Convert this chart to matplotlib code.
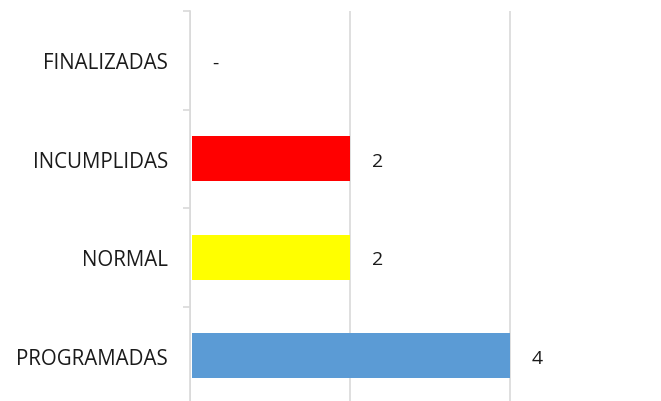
import matplotlib.pyplot as plt

# datos
categorias = ['PROGRAMADAS', 'NORMAL', 'INCUMPLIDAS', 'FINALIZADAS']
valores = [4, 2, 2, 0]
colores = ['#5B9BD5', '#FFFF00', '#FF0000', '#5B9BD5']

plt.rcParams['font.family'] = ['Open Sans', 'DejaVu Sans']

fig = plt.figure(figsize=(6.61, 4.02), dpi=100)
ax = fig.add_axes([190 / 661, -4 / 402, 1 - 190 / 661, 394 / 402])

pos = list(range(len(categorias)))
# pequeño hueco entre el eje y la barra, como en Excel
hueco = 0.025
anchos = [max(v - hueco, 0) for v in valores]
ax.barh(pos, anchos, height=0.46, color=colores, left=hueco, zorder=3)

# etiquetas de valor
for y, v in zip(pos, valores):
    txt = '-' if v == 0 else str(v)
    ax.annotate(txt, xy=(v, y), xytext=(16, -1.5), textcoords='offset points',
                ha='left', va='center', fontsize=14, color='#1a1a1a')

ax.set_xticks([0, 2, 4, 6])
ax.set_xlim(0, 5.89)
ax.set_ylim(-0.5, 3.5)
ax.xaxis.grid(True, color='#D9D9D9', linewidth=1.2, zorder=0)
ax.tick_params(axis='x', length=0, labelbottom=False)

ax.set_yticks(pos)
ax.set_yticklabels(categorias, fontsize=14.8, color='#1a1a1a')
ax.set_yticks([-0.5, 0.5, 1.5, 2.5, 3.5], minor=True)
ax.tick_params(axis='y', which='major', length=0, pad=16)
ax.tick_params(axis='y', which='minor', length=5, width=1.2, color='#D9D9D9')

for s in ['top', 'right', 'bottom']:
    ax.spines[s].set_visible(False)
ax.spines['left'].set_color('#D9D9D9')
ax.spines['left'].set_linewidth(1.2)

fig.savefig('out.png', dpi=100)
